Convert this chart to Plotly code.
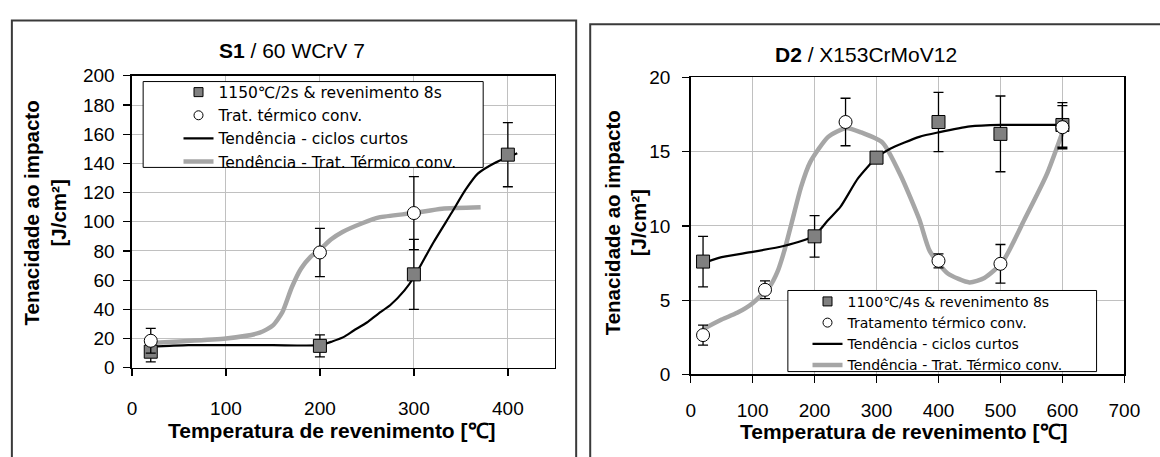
import plotly.graph_objects as go

W, H = 1160, 457

# ---------------- data: S1 / 60 WCrV 7 (left) ----------------
s1_temp_short = [20, 200, 300, 400]
s1_tough_short = [11, 15, 64, 146]
s1_err_short = [7, 7.5, 24, 22]

s1_temp_conv = [20, 200, 300]
s1_tough_conv = [18.5, 79, 106]
s1_err_conv = [8.5, 16.5, 25]

s1_trend_short_x = [20, 40, 60, 100, 150, 200, 213, 225, 236, 250, 262, 275, 290, 300, 320, 340, 355, 368, 385, 410]
s1_trend_short_y = [14.5, 15, 15.5, 15.5, 15.5, 15.5, 18, 21, 25.5, 31, 37, 43, 53, 62, 85, 106, 122, 133, 140, 147]

s1_trend_conv_x = [20, 50, 100, 136, 150, 160, 170, 180, 190, 200, 212, 224, 245, 263, 300, 330, 371]
s1_trend_conv_y = [17, 18, 20, 24, 29, 38, 55, 68, 76, 81, 88, 93, 99, 103, 106, 109, 110]

s1_xticks = [0, 100, 200, 300, 400]
s1_yticks = [0, 20, 40, 60, 80, 100, 120, 140, 160, 180, 200]
s1_names = ["1150\u2103/2s & revenimento 8s", "Trat. t\u00e9rmico conv.",
            "Tend\u00eancia - ciclos curtos", "Tend\u00eancia - Trat. T\u00e9rmico conv."]

# ---------------- data: D2 / X153CrMoV12 (right) ----------------
d2_temp_short = [20, 200, 300, 400, 500, 600]
d2_tough_short = [7.6, 9.3, 14.6, 17.0, 16.2, 16.8]
d2_err_short = [1.7, 1.4, 0, 2.0, 2.55, 1.5]

d2_temp_conv = [20, 120, 250, 400, 500, 600]
d2_tough_conv = [2.65, 5.7, 17.0, 7.65, 7.45, 16.65]
d2_err_conv = [0.67, 0.6, 1.6, 0.47, 1.3, 1.45]

d2_trend_short_x = [20, 50, 100, 150, 180, 200, 222, 242, 270, 300, 322, 369, 400, 451, 500, 600]
d2_trend_short_y = [7.5, 7.9, 8.25, 8.65, 9.0, 9.35, 10.4, 11.3, 13.2, 14.6, 15.2, 16.0, 16.3, 16.7, 16.8, 16.8]

d2_trend_conv_x = [20, 50, 75, 100, 128, 140, 151, 163, 178, 193, 222, 251, 275, 310, 339, 369, 386, 415, 450, 474, 503, 539, 574, 600]
d2_trend_conv_y = [3.05, 3.7, 4.15, 4.8, 5.95, 6.9, 8.3, 10.2, 12.6, 14.3, 16.0, 16.6, 16.3, 15.6, 13.4, 10.45, 8.3, 6.8, 6.2, 6.5, 7.55, 10.45, 13.4, 16.3]

d2_xticks = [0, 100, 200, 300, 400, 500, 600, 700]
d2_yticks = [0, 5, 10, 15, 20]
d2_names = ["1100\u2103/4s & revenimento 8s", "Tratamento t\u00e9rmico conv.",
            "Tend\u00eancia - ciclos curtos", "Tend\u00eancia - Trat. T\u00e9rmico conv."]

x_title = "<b>Temperatura de revenimento [\u2103]</b>"
y_title = "<b>Tenacidade ao impacto<br>[J/cm\u00b2]</b>"
s1_title = "<b>S1</b> / 60 WCrV 7"
d2_title = "<b>D2</b> / X153CrMoV12"

# ---------------- styling ----------------
FONT = "Liberation Sans, Arial, sans-serif"
LFONT = "DejaVu Sans, sans-serif"
GRAY_LINE = "#a6a6a6"
SQ_FILL = "#808080"


def px(xp):
    return xp / W


def py(yp):
    return 1 - yp / H


fig = go.Figure()


def add_panel(xa, ya, tsx, tsy, tcx, tcy, sx, sy, se, cx, cy, ce):
    fig.add_trace(go.Scatter(x=tcx, y=tcy, mode="lines", xaxis=xa, yaxis=ya, showlegend=False,
                             hoverinfo="skip",
                             line=dict(color=GRAY_LINE, width=4.5, shape="spline", smoothing=0.6)))
    fig.add_trace(go.Scatter(x=tsx, y=tsy, mode="lines", xaxis=xa, yaxis=ya, showlegend=False,
                             hoverinfo="skip",
                             line=dict(color="black", width=2.2, shape="spline", smoothing=0.6)))
    fig.add_trace(go.Scatter(x=sx, y=sy, mode="markers", xaxis=xa, yaxis=ya, showlegend=False,
                             marker=dict(symbol="square", size=13, color=SQ_FILL,
                                         line=dict(color="black", width=1)),
                             error_y=dict(type="data", array=se, visible=True, color="black",
                                          thickness=1.3, width=5)))
    fig.add_trace(go.Scatter(x=cx, y=cy, mode="markers", xaxis=xa, yaxis=ya, showlegend=False,
                             marker=dict(symbol="circle", size=13, color="white",
                                         line=dict(color="black", width=1)),
                             error_y=dict(type="data", array=ce, visible=True, color="black",
                                          thickness=1.3, width=5)))


def add_legend(names, legend_id, xa, ya):
    fig.add_trace(go.Scatter(x=[None], y=[None], mode="markers", name=names[0], legend=legend_id,
                             xaxis=xa, yaxis=ya,
                             marker=dict(symbol="square", size=9, color=SQ_FILL,
                                         line=dict(color="black", width=1))))
    fig.add_trace(go.Scatter(x=[None], y=[None], mode="markers", name=names[1], legend=legend_id,
                             xaxis=xa, yaxis=ya,
                             marker=dict(symbol="circle", size=9, color="white",
                                         line=dict(color="black", width=1))))
    fig.add_trace(go.Scatter(x=[None], y=[None], mode="lines", name=names[2], legend=legend_id,
                             xaxis=xa, yaxis=ya, line=dict(color="black", width=2.2)))
    fig.add_trace(go.Scatter(x=[None], y=[None], mode="lines", name=names[3], legend=legend_id,
                             xaxis=xa, yaxis=ya, line=dict(color=GRAY_LINE, width=4.5)))


add_panel("x", "y", s1_trend_short_x, s1_trend_short_y, s1_trend_conv_x, s1_trend_conv_y,
          s1_temp_short, s1_tough_short, s1_err_short, s1_temp_conv, s1_tough_conv, s1_err_conv)
add_panel("x2", "y2", d2_trend_short_x, d2_trend_short_y, d2_trend_conv_x, d2_trend_conv_y,
          d2_temp_short, d2_tough_short, d2_err_short, d2_temp_conv, d2_tough_conv, d2_err_conv)
add_legend(s1_names, "legend", "x", "y")
add_legend(d2_names, "legend2", "x2", "y2")

ax_common = dict(showline=True, linecolor="black", linewidth=1.5, mirror=True,
                 ticks="outside", ticklen=7, tickwidth=1.3, tickcolor="black",
                 showgrid=True, gridcolor="#c0c0c0", gridwidth=1, zeroline=False,
                 tickfont=dict(family=FONT, size=19, color="black"), fixedrange=True)

fig.update_layout(
    width=W, height=H, margin=dict(l=0, r=0, t=0, b=0),
    paper_bgcolor="white", plot_bgcolor="white",
    font=dict(family=FONT, color="black", size=19),
    showlegend=True,
    xaxis=dict(domain=[px(129.3), px(560)], range=[0, 450], tickvals=s1_xticks,
               anchor="y", ticklabelstandoff=16, **ax_common),
    yaxis=dict(domain=[py(375), py(69)], range=[0, 200], tickvals=s1_yticks,
               anchor="x", ticklabelstandoff=5, **ax_common),
    xaxis2=dict(domain=[px(698.3), px(1140)], range=[0, 700], tickvals=d2_xticks,
                anchor="y2", ticklabelstandoff=11, **ax_common),
    yaxis2=dict(domain=[py(382), py(70.7)], range=[0, 20], tickvals=d2_yticks,
                anchor="x2", ticklabelstandoff=8, **ax_common),
    legend=dict(x=px(176.7), y=py(68.7), xanchor="left", yanchor="top",
                bgcolor="rgba(0,0,0,0)", borderwidth=0, traceorder="normal",
                font=dict(family=LFONT, size=15.5, color="black")),
    legend2=dict(x=px(817.3), y=py(289.1), xanchor="left", yanchor="top",
                 bgcolor="rgba(0,0,0,0)", borderwidth=0, traceorder="normal",
                 font=dict(family=LFONT, size=14, color="black")),
    shapes=[
        # outer frames of the two chart panels
        dict(type="rect", xref="paper", yref="paper", x0=px(7), x1=px(581.7), y0=-0.2, y1=py(11),
             line=dict(color="#3a3a3a", width=2), fillcolor="rgba(0,0,0,0)", layer="below"),
        dict(type="rect", xref="paper", yref="paper", x0=px(596), x1=1.2, y0=-0.2, y1=py(15),
             line=dict(color="#3a3a3a", width=2), fillcolor="rgba(0,0,0,0)", layer="below"),
        # legend boxes
        dict(type="rect", xref="paper", yref="paper", x0=px(140.7), x1=px(487), y0=py(165), y1=py(75),
             line=dict(color="black", width=1), fillcolor="white", layer="above"),
        dict(type="rect", xref="paper", yref="paper", x0=px(797.3), x1=px(1111.7), y0=py(379), y1=py(294),
             line=dict(color="black", width=1), fillcolor="white", layer="above"),
    ],
    annotations=[
        dict(text=s1_title, xref="paper", yref="paper", x=px(292), y=py(42), xanchor="center",
             yanchor="middle", showarrow=False, font=dict(family=FONT, size=21, color="black")),
        dict(text=d2_title, xref="paper", yref="paper", x=px(877), y=py(46.5), xanchor="center",
             yanchor="middle", showarrow=False, font=dict(family=FONT, size=21, color="black")),
        dict(text=x_title, xref="paper", yref="paper", x=px(333), y=py(441), xanchor="center",
             yanchor="middle", showarrow=False, font=dict(family=FONT, size=21, color="black")),
        dict(text=x_title, xref="paper", yref="paper", x=px(916), y=py(441.5), xanchor="center",
             yanchor="middle", showarrow=False, font=dict(family=FONT, size=21, color="black")),
        dict(text=y_title, xref="paper", yref="paper", x=px(41), y=py(213), xanchor="center",
             yanchor="middle", textangle=-90, showarrow=False,
             font=dict(family=FONT, size=20.5, color="black")),
        dict(text=y_title, xref="paper", yref="paper", x=px(632), y=py(223), xanchor="center",
             yanchor="middle", textangle=-90, showarrow=False,
             font=dict(family=FONT, size=20.5, color="black")),
    ],
)

fig.write_html("out.html", config={"displayModeBar": False, "staticPlot": True},
               post_script="document.body.style.margin='0px';")
